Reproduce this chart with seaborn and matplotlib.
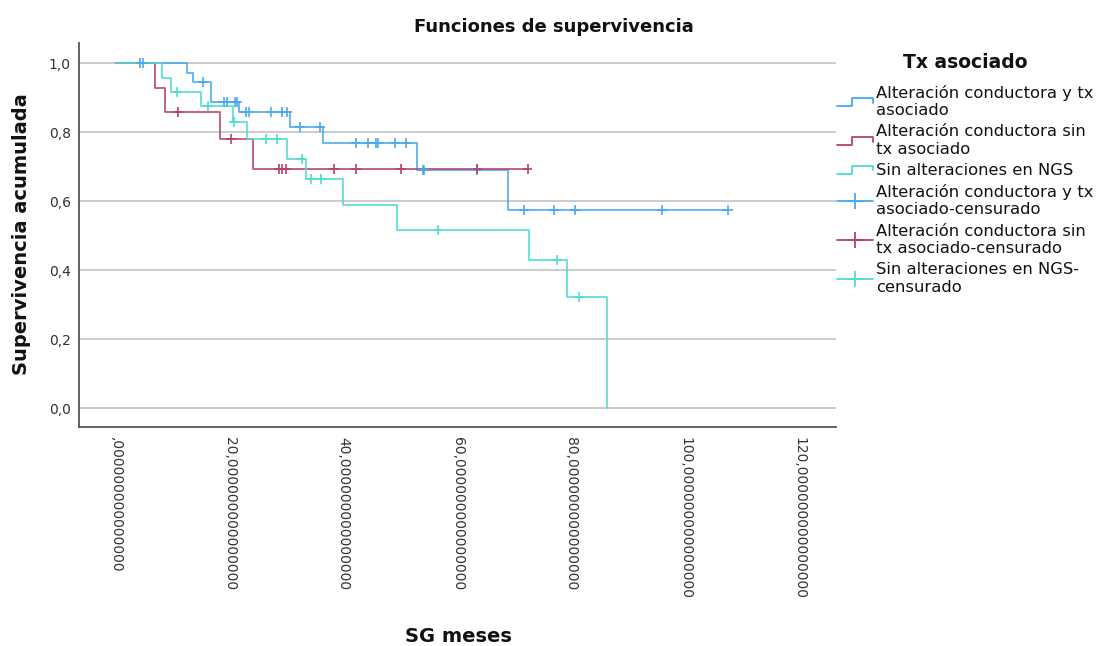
import numpy as np
import pandas as pd
import matplotlib
matplotlib.use('Agg')
import matplotlib.pyplot as plt
import seaborn as sns
from matplotlib.lines import Line2D
from matplotlib.legend_handler import HandlerBase

# Grupos y colores
grupos = ['Alteración conductora y tx asociado',
          'Alteración conductora sin tx asociado',
          'Sin alteraciones en NGS']
colores = ['#4aa9ee', '#b5426c', '#4fdcd4']

# Curvas de Kaplan-Meier (tiempos de evento y supervivencia acumulada)
t_con_tx = [0, 12.5, 13.6, 16.7, 21.6, 30.6, 36.4, 52.8, 68.8]
s_con_tx = [1.0, 0.972, 0.946, 0.886, 0.857, 0.814, 0.767, 0.690, 0.575]
c_con_tx = [4.3, 4.7, 15.2, 18.9, 19.5, 20.9, 21.3, 22.8, 23.4, 27.3, 29.1,
            30.1, 32.3, 35.8, 42.2, 44.3, 45.6, 46.1, 49.1, 50.9, 53.9, 54.1,
            63.4, 71.7, 77.0, 80.7, 95.9, 107.5]

t_sin_tx = [0, 6.9, 8.6, 18.2, 24.0]
s_sin_tx = [1.0, 0.929, 0.857, 0.779, 0.693]
c_sin_tx = [10.9, 20.2, 28.7, 29.2, 29.8, 38.3, 42.1, 50.1, 63.5, 72.3]

t_ngs = [0, 8.1, 9.6, 15.0, 20.5, 23.0, 30.0, 33.3, 39.8, 49.4, 72.5, 79.3, 86.3]
s_ngs = [1.0, 0.958, 0.917, 0.875, 0.828, 0.779, 0.722, 0.663, 0.588, 0.516,
         0.429, 0.322, 0.0]
c_ngs = [10.8, 16.2, 20.8, 26.4, 28.2, 32.6, 34.2, 36.1, 56.5, 77.4, 81.4]

x_ticks = [0, 20, 40, 60, 80, 100, 120]
x_labels = [',000000000000000', '20,000000000000000', '40,000000000000000',
            '60,000000000000000', '80,000000000000000', '100,000000000000000',
            '120,000000000000000']
y_ticks = [0.0, 0.2, 0.4, 0.6, 0.8, 1.0]
y_labels = ['0,0', '0,2', '0,4', '0,6', '0,8', '1,0']

leyenda_labels = ['Alteración conductora y tx\nasociado',
                  'Alteración conductora sin\ntx asociado',
                  'Sin alteraciones en NGS',
                  'Alteración conductora y tx\nasociado-censurado',
                  'Alteración conductora sin\ntx asociado-censurado',
                  'Sin alteraciones en NGS-\ncensurado']


def armar_curva(nombre, tiempos, surv, cens):
    fin = max(tiempos[-1], max(cens))
    x = list(tiempos)
    y = list(surv)
    if fin > x[-1]:
        x.append(fin)
        y.append(y[-1])
    linea = pd.DataFrame({'t': x, 's': y, 'grupo': nombre})
    idx = np.searchsorted(tiempos, cens, side='right') - 1
    censura = pd.DataFrame({'t': cens, 's': np.array(surv)[idx], 'grupo': nombre})
    return linea, censura


partes = [armar_curva(grupos[0], t_con_tx, s_con_tx, c_con_tx),
          armar_curva(grupos[1], t_sin_tx, s_sin_tx, c_sin_tx),
          armar_curva(grupos[2], t_ngs, s_ngs, c_ngs)]
lineas = pd.concat([p[0] for p in partes], ignore_index=True)
censuras = pd.concat([p[1] for p in partes], ignore_index=True)
paleta = dict(zip(grupos, colores))


class HandlerEscalon(HandlerBase):
    # icono en forma de escalon como en SPSS
    def create_artists(self, legend, orig_handle, xdescent, ydescent,
                       width, height, fontsize, trans):
        x0 = -xdescent
        y0 = -ydescent
        xs = [x0, x0 + width * 0.42, x0 + width * 0.42, x0 + width, x0 + width]
        ys = [y0 + height * 0.1, y0 + height * 0.1, y0 + height * 0.8,
              y0 + height * 0.8, y0 + height * 0.4]
        ln = Line2D(xs, ys, color=orig_handle.get_color(), lw=1.3)
        ln.set_transform(trans)
        return [ln]


sns.set_style('white')
plt.rcParams['font.family'] = ['DejaVu Sans']

fig = plt.figure(figsize=(10.97, 6.46), dpi=100)
ax = fig.add_axes([79 / 1097, 1 - 427 / 646, (836 - 79) / 1097, (427 - 43) / 646])

for yv in y_ticks:
    ax.axhline(yv, color='#bdbdbd', lw=1.1, zorder=0)

sns.lineplot(data=lineas, x='t', y='s', hue='grupo', palette=paleta,
             estimator=None, sort=False, drawstyle='steps-post',
             lw=1.3, alpha=0.9, legend=False, ax=ax)
sns.scatterplot(data=censuras, x='t', y='s', hue='grupo', palette=paleta,
                marker='+', s=50, linewidth=1.2, legend=False, ax=ax, zorder=3)

ax.set_xlim(-6.5, 126.5)
ax.set_ylim(-0.055, 1.058)
ax.set_xticks(x_ticks)
ax.set_xticklabels(x_labels, rotation=-90, fontsize=10, color='#333333')
ax.set_yticks(y_ticks)
ax.set_yticklabels(y_labels, fontsize=10, color='#333333')
ax.tick_params(axis='both', length=0)
ax.tick_params(axis='x', pad=7)
ax.tick_params(axis='y', pad=6)
ax.set_xlabel('')
ax.set_ylabel('')

for lado in ['top', 'right']:
    ax.spines[lado].set_visible(False)
for lado in ['left', 'bottom']:
    ax.spines[lado].set_color('#555555')
    ax.spines[lado].set_linewidth(1.3)

fig.text(554 / 1097, 1 - 27 / 646, 'Funciones de supervivencia', ha='center',
         va='center', fontsize=13, fontweight='bold', color='#111111')
fig.text(22 / 1097, 1 - 234 / 646, 'Supervivencia acumulada', ha='center',
         va='center', rotation=90, fontsize=14, fontweight='bold', color='#111111')
fig.text(458 / 1097, 1 - 636 / 646, 'SG meses', ha='center', va='center',
         fontsize=14, fontweight='bold', color='#111111')

handles = [Line2D([0], [0], color=c, lw=1.3) for c in colores]
handles += [Line2D([0], [0], color=c, lw=1.3, marker='+', markersize=12,
                   markeredgewidth=1.3) for c in colores]
mapa = {h: HandlerEscalon() for h in handles[:3]}

leg = fig.legend(handles, leyenda_labels, handler_map=mapa, loc='upper left',
                 bbox_to_anchor=(837 / 1097, 1 - 53 / 646), frameon=False,
                 title='Tx asociado',
                 title_fontproperties={'weight': 'bold', 'size': 13.5},
                 fontsize=11.8, handlelength=2.2, handletextpad=0.2,
                 labelspacing=0.38, borderpad=0, borderaxespad=0)
leg._legend_box.sep = 9
leg.get_title().set_color('#111111')
for txt in leg.get_texts():
    txt.set_linespacing(1.2)
    txt.set_color('#111111')

fig.savefig('out.png', dpi=100)
